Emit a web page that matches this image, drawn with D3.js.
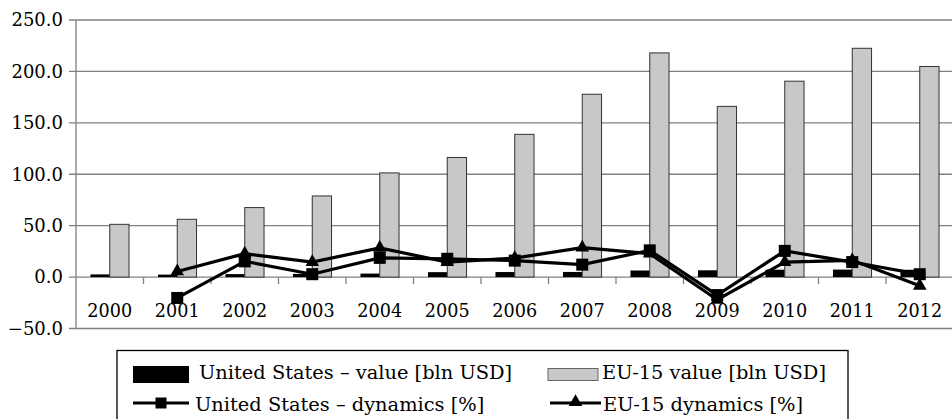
<!DOCTYPE html>
<html>
<head>
<meta charset="utf-8">
<script src="https://cdn.jsdelivr.net/npm/d3@7"></script>
<style>
  body { margin: 0; background: #fff; }
  text { font-family: "DejaVu Serif", serif; fill: #000; }
</style>
</head>
<body>
<div id="chart"></div>
<script>
var years    = ['2000','2001','2002','2003','2004','2005','2006','2007','2008','2009','2010','2011','2012'];
var usValue  = [2.6, 2.4, 2.9, 3.1, 3.4, 4.8, 4.9, 5.0, 6.4, 6.6, 7.2, 7.3, 7.1];
var euValue  = [51.3, 56.2, 67.6, 78.9, 101.3, 116.3, 138.8, 177.8, 218.0, 166.0, 190.5, 222.5, 204.8];
var usDyn    = [null, -20.3, 15.3, 2.8, 18.7, 17.8, 16.0, 12.1, 26.0, -17.5, 25.5, 14.6, 2.8];
var euDyn    = [null, 5.5, 22.8, 14.6, 28.4, 14.6, 18.5, 28.6, 22.8, -22.0, 14.6, 16.3, -8.4];
var yTicks   = [-50, 0, 50, 100, 150, 200, 250];

var width = 952, height = 419;
var plotLeft = 76, plotTop = 20, plotRight = 953.5, plotBottom = 328.5;

var svg = d3.select('#chart').append('svg')
    .attr('width', width)
    .attr('height', height);

var x = d3.scaleBand().domain(years).range([plotLeft, plotRight]);
var y = d3.scaleLinear().domain([-50, 250]).range([plotBottom, plotTop]);

var barW = x.bandwidth() / 3.5;

// gridlines
svg.append('g').selectAll('line')
    .data(yTicks)
  .enter().append('line')
    .attr('x1', plotLeft - 7).attr('x2', plotRight)
    .attr('y1', function(d) { return y(d); })
    .attr('y2', function(d) { return y(d); })
    .attr('stroke', '#808080')
    .attr('stroke-width', 1.3);

// y axis labels
var yAxis = d3.axisLeft(y).tickValues(yTicks).tickSize(0).tickPadding(13)
    .tickFormat(function(d) { return d < 0 ? '\u2212' + d3.format('.1f')(-d) : d3.format('.1f')(d); });
var ya = svg.append('g')
    .attr('transform', 'translate(' + plotLeft + ',0)')
    .call(yAxis);
ya.select('.domain').remove();
ya.selectAll('text').style('font-size', '18px').style('font-family', '"DejaVu Serif", serif');

svg.append('line')
    .attr('x1', plotLeft).attr('x2', plotLeft)
    .attr('y1', plotTop).attr('y2', plotBottom)
    .attr('stroke', '#808080').attr('stroke-width', 1.3);

// x ticks on the zero line
svg.append('g').selectAll('line')
    .data(years.slice(1))
  .enter().append('line')
    .attr('x1', function(d) { return x(d); })
    .attr('x2', function(d) { return x(d); })
    .attr('y1', y(0)).attr('y2', y(0) + 7)
    .attr('stroke', '#808080').attr('stroke-width', 1.3);

// bars
var bars = svg.append('g');
bars.selectAll('rect.us')
    .data(years)
  .enter().append('rect')
    .attr('class', 'us')
    .attr('x', function(d) { return x(d) + x.bandwidth() / 2 - barW; })
    .attr('width', barW)
    .attr('y', function(d, i) { return y(usValue[i]); })
    .attr('height', function(d, i) { return y(0) - y(usValue[i]); })
    .attr('fill', '#000');

bars.selectAll('rect.eu')
    .data(years)
  .enter().append('rect')
    .attr('class', 'eu')
    .attr('x', function(d) { return x(d) + x.bandwidth() / 2; })
    .attr('width', barW)
    .attr('y', function(d, i) { return y(euValue[i]); })
    .attr('height', function(d, i) { return y(0) - y(euValue[i]); })
    .attr('fill', '#c8c8c8')
    .attr('stroke', '#333')
    .attr('stroke-width', 1);

// x labels
svg.append('g').selectAll('text')
    .data(years)
  .enter().append('text')
    .attr('x', function(d) { return x(d) + x.bandwidth() / 2; })
    .attr('y', 316.5)
    .attr('text-anchor', 'middle')
    .style('font-size', '17.6px')
    .text(function(d) { return d; });

// lines
var line = d3.line()
    .defined(function(d) { return d.v != null; })
    .x(function(d) { return x(d.year) + x.bandwidth() / 2; })
    .y(function(d) { return y(d.v); });

function series(vals) {
  return years.map(function(yr, i) { return {year: yr, v: vals[i]}; });
}

var usData = series(usDyn), euData = series(euDyn);

svg.append('path').datum(usData)
    .attr('d', line).attr('fill', 'none').attr('stroke', '#000').attr('stroke-width', 3.2);
svg.append('path').datum(euData)
    .attr('d', line).attr('fill', 'none').attr('stroke', '#000').attr('stroke-width', 3.2);

var sq = 12;
svg.append('g').selectAll('rect')
    .data(usData.filter(function(d) { return d.v != null; }))
  .enter().append('rect')
    .attr('x', function(d) { return x(d.year) + x.bandwidth() / 2 - sq / 2; })
    .attr('y', function(d) { return y(d.v) - sq / 2; })
    .attr('width', sq).attr('height', sq)
    .attr('fill', '#000');

var tri = d3.symbol().type(d3.symbolTriangle).size(80);
svg.append('g').selectAll('path')
    .data(euData.filter(function(d) { return d.v != null; }))
  .enter().append('path')
    .attr('d', tri)
    .attr('transform', function(d) {
      return 'translate(' + (x(d.year) + x.bandwidth() / 2) + ',' + y(d.v) + ')';
    })
    .attr('fill', '#000');

// legend
var lg = svg.append('g');
lg.append('rect')
    .attr('x', 117).attr('y', 350.5)
    .attr('width', 731).attr('height', 100)
    .attr('fill', 'none').attr('stroke', '#000').attr('stroke-width', 1.3);

lg.append('rect').attr('x', 133).attr('y', 366).attr('width', 56).attr('height', 17).attr('fill', '#000');
lg.append('text').attr('x', 199).attr('y', 378.5).style('font-size', '19.4px')
    .text('United States \u2013 value [bln USD]');

lg.append('rect').attr('x', 548).attr('y', 368.5).attr('width', 50).attr('height', 12)
    .attr('fill', '#c8c8c8').attr('stroke', '#666').attr('stroke-width', 1);
lg.append('text').attr('x', 602).attr('y', 378.5).style('font-size', '19.4px')
    .text('EU-15 value [bln USD]');

lg.append('line').attr('x1', 133).attr('x2', 189).attr('y1', 403).attr('y2', 403)
    .attr('stroke', '#000').attr('stroke-width', 3.2);
lg.append('rect').attr('x', 161 - 5.5).attr('y', 403 - 5.5).attr('width', 11).attr('height', 11).attr('fill', '#000');
lg.append('text').attr('x', 195).attr('y', 410.5).style('font-size', '19.4px')
    .text('United States \u2013 dynamics [%]');

lg.append('line').attr('x1', 550).attr('x2', 601).attr('y1', 403).attr('y2', 403)
    .attr('stroke', '#000').attr('stroke-width', 3.2);
lg.append('path').attr('d', tri).attr('transform', 'translate(575.5,402)').attr('fill', '#000');
lg.append('text').attr('x', 603).attr('y', 410.5).style('font-size', '19.4px')
    .text('EU-15 dynamics [%]');
</script>
</body>
</html>
